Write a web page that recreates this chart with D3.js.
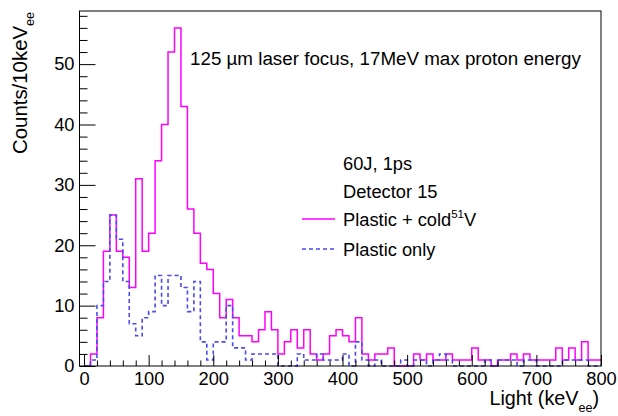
<!DOCTYPE html>
<html>
<head>
<meta charset="utf-8">
<script src="https://cdn.jsdelivr.net/npm/d3@7"></script>
<style>
  html, body { margin: 0; padding: 0; background: #fff; }
  svg { display: block; font-family: "Liberation Sans", Arial, Helvetica, sans-serif; }
</style>
</head>
<body>
<svg id="chart" width="618" height="416"></svg>
<script>
// ---- data ----
const binWidth = 10;
const binStarts = d3.range(0, 800, binWidth);   // 80 bins, 0..800 keVee

const plasticCold = [
  0, 2, 8, 19, 25, 19, 18, 13, 31, 19,
  22, 34, 40, 52, 56, 43, 26, 22, 17, 16,
  12, 8, 11, 8, 5, 5, 4, 6, 9, 6,
  2, 4, 6, 3, 6, 2, 1, 2, 5, 6,
  5, 4, 8, 2, 1, 2, 2, 3, 0, 0,
  0, 2, 1, 2, 1, 1, 2, 1, 1, 1,
  3, 1, 1, 0, 1, 1, 2, 1, 2, 1,
  1, 1, 1, 3, 1, 3, 1, 4, 1, 1
];

const plasticOnly = [
  0, 1, 10, 14, 25, 21, 14, 7, 5, 8,
  9, 15, 10, 15, 15, 13, 9, 14, 4, 1,
  4, 4, 10, 3, 3, 1, 2, 2, 2, 2,
  0, 0, 0, 2, 1, 1, 2, 1, 1, 1,
  2, 0, 4, 1, 0, 1, 0, 0, 0, 1,
  0, 1, 1, 0, 1, 2, 1, 0, 0, 0,
  0, 0, 1, 0, 1, 1, 1, 0, 1, 1,
  0, 0, 0, 0, 1, 1, 1, 1, 0, 0
];

const xTicksMajor = [0, 100, 200, 300, 400, 500, 600, 700, 800];
const yTicksMajor = [0, 10, 20, 30, 40, 50];
const xDomain = [-7, 800];
const yDomain = [0, 58.8];

const titleText = "125 \u00b5m laser focus, 17MeV max proton energy";
const legendInfo = ["60J, 1ps", "Detector 15"];
const seriesNames = ["Plastic + cold", "Plastic only"];

// ---- drawing ----
const svg = d3.select("#chart");
const frame = { left: 79.5, right: 601, top: 11, bottom: 366 };

const x = d3.scaleLinear().domain(xDomain).range([frame.left, frame.right]);
const y = d3.scaleLinear().domain(yDomain).range([frame.bottom, frame.top]);

const fontTick = 18.3;

// histograms as step lines
function stepPoints(vals) {
  const pts = vals.map((v, i) => [binStarts[i], v]);
  pts.push([binStarts[binStarts.length - 1] + binWidth, vals[vals.length - 1]]);
  return pts;
}
const line = d3.line().x(d => x(d[0])).y(d => y(d[1])).curve(d3.curveStepAfter);

svg.append("path")
  .attr("d", line(stepPoints(plasticCold)))
  .attr("fill", "none")
  .attr("stroke", "#ff00ff")
  .attr("stroke-width", 1.5);

svg.append("path")
  .attr("d", line(stepPoints(plasticOnly)))
  .attr("fill", "none")
  .attr("stroke", "#4a4aee")
  .attr("stroke-width", 1.6)
  .attr("stroke-dasharray", "4,3");

// x axis
const xMinor = d3.range(0, 801, 20).filter(v => v % 100 !== 0);
const gx = svg.append("g").attr("transform", `translate(0,${frame.bottom})`);
gx.call(d3.axisBottom(x).tickValues(xTicksMajor).tickSize(-11).tickPadding(6).tickFormat(d3.format("d")));
gx.append("g").call(d3.axisBottom(x).tickValues(xMinor).tickSize(-5.5).tickFormat(""));
gx.selectAll(".domain").remove();
gx.selectAll("line").attr("stroke", "#000");
gx.selectAll("text").attr("font-size", fontTick).attr("fill", "#000").attr("font-family", null);

// y axis
const yMinor = d3.range(0, 58.8, 2).filter(v => v % 10 !== 0);
const gy = svg.append("g").attr("transform", `translate(${frame.left},0)`);
gy.call(d3.axisLeft(y).tickValues(yTicksMajor).tickSize(-16).tickPadding(5).tickFormat(d3.format("d")));
gy.append("g").call(d3.axisLeft(y).tickValues(yMinor).tickSize(-8).tickFormat(""));
gy.selectAll(".domain").remove();
gy.selectAll("line").attr("stroke", "#000");
gy.selectAll("text").attr("font-size", fontTick).attr("fill", "#000").attr("font-family", null);

// frame
svg.append("rect")
  .attr("x", frame.left).attr("y", frame.top)
  .attr("width", frame.right - frame.left).attr("height", frame.bottom - frame.top)
  .attr("fill", "none").attr("stroke", "#000").attr("stroke-width", 1);

// axis titles
const xt = svg.append("text")
  .attr("x", 599).attr("y", 405)
  .attr("text-anchor", "end").attr("font-size", 19.8);
xt.append("tspan").text("Light (keV");
xt.append("tspan").attr("font-size", 12.5).attr("dy", 7).text("ee");
xt.append("tspan").attr("dy", -7).text(")");

const yt = svg.append("text")
  .attr("transform", "translate(27,12) rotate(-90)")
  .attr("text-anchor", "end").attr("font-size", 20.4);
yt.append("tspan").text("Counts/10keV");
yt.append("tspan").attr("font-size", 12.5).attr("dy", 7).text("ee");

// title
svg.append("text")
  .attr("x", 190).attr("y", 65)
  .attr("font-size", 18.8)
  .text(titleText);

// legend
const lx = 343;
svg.append("text").attr("x", lx).attr("y", 170).attr("font-size", 18.3).text(legendInfo[0]);
svg.append("text").attr("x", lx).attr("y", 198).attr("font-size", 18.3).text(legendInfo[1]);

svg.append("line").attr("x1", 302).attr("x2", 335).attr("y1", 219).attr("y2", 219)
  .attr("stroke", "#ff00ff").attr("stroke-width", 1.5);
const t1 = svg.append("text").attr("x", lx).attr("y", 226).attr("font-size", 18.3);
t1.append("tspan").text(seriesNames[0]);
t1.append("tspan").attr("font-size", 11.5).attr("dy", -8).text("51");
t1.append("tspan").attr("dy", 8).text("V");

svg.append("line").attr("x1", 302).attr("x2", 335).attr("y1", 249).attr("y2", 249)
  .attr("stroke", "#4a4aee").attr("stroke-width", 1.6).attr("stroke-dasharray", "4,3");
svg.append("text").attr("x", lx).attr("y", 256).attr("font-size", 18.3).text(seriesNames[1]);
</script>
</body>
</html>
